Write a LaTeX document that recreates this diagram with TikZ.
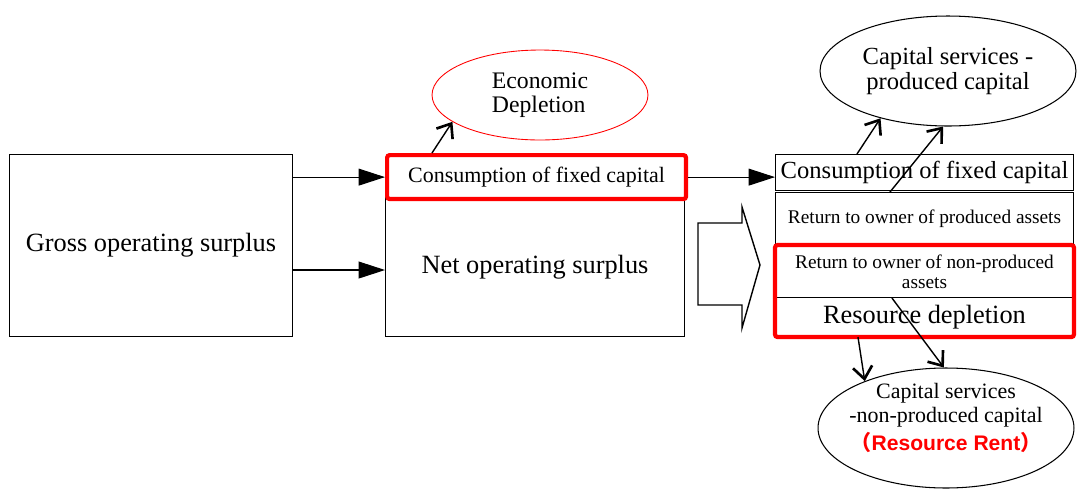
\documentclass[tikz,border=0pt]{standalone}
\usepackage{fontspec}
\setmainfont{Liberation Serif}
\setsansfont{Liberation Sans}
\newfontfamily\cjk{Noto Sans CJK SC}
\usetikzlibrary{shapes.geometric,arrows.meta,positioning,fit,calc}

\begin{document}
\begin{tikzpicture}[
    x=0.02cm, y=-0.02cm,
    box/.style={draw, line width=0.6pt, rectangle, inner sep=0pt, align=center, anchor=north west},
    redbox/.style={draw=red, line width=2.4pt, rounded corners=1.5pt, inner sep=0pt},
    oval/.style={draw, ellipse, line width=0.6pt, inner sep=0pt, align=center},
    flow/.style={-{Triangle[length=15pt,width=9.6pt]}, line width=0.6pt},
    barb/.style={-{Straight Barb[length=7pt,width=11pt,line width=1.5pt]}, line width=0.8pt},
]
\useasboundingbox (0,0) rectangle (1080,491);

% left and middle
\node[box, minimum width=5.66cm, minimum height=3.64cm, font=\fontsize{15}{18}\selectfont] (gos) at (9,154) {Gross operating surplus};
\node[box, minimum width=5.98cm, minimum height=2.78cm, font=\fontsize{15}{18}\selectfont] (net) at (385,197) {Net operating surplus};
\node[box, redbox, minimum width=5.98cm, minimum height=0.88cm, font=\fontsize{12.5}{15}\selectfont] (cfc1) at (385,153) {Consumption of fixed capital};
\node[oval, draw=red, line width=0.5pt, minimum width=4.32cm, minimum height=1.8cm, align=left, font=\fontsize{13.5}{13.5}\selectfont] (ecdep) at (540,95) {Economic\\Depletion};

% right column
\node[box, minimum width=5.96cm, minimum height=0.72cm, font=\fontsize{14}{17}\selectfont] (cfc2) at (775,154) {Consumption of fixed capital};
\node[box, minimum width=5.96cm, minimum height=1.06cm, font=\fontsize{11}{13}\selectfont] (rop) at (775,192) {Return to owner of produced assets};
\node[box, minimum width=5.96cm, minimum height=1.04cm, font=\fontsize{11}{11.3}\selectfont] (ronp) at (775,245) {Return to owner of non-produced\\assets};
\node[box, minimum width=5.96cm, minimum height=0.78cm, font=\fontsize{15}{18}\selectfont] (rdep) at (775,297) {Resource depletion};
\node[redbox, fit=(ronp)(rdep)] (nonprod) {};

\node[oval, minimum width=5.12cm, minimum height=2.2cm, font=\fontsize{14}{14.5}\selectfont] (cspc) at (948,71) {Capital services -\\produced capital};
\node[oval, minimum width=5.12cm, minimum height=2.4cm] (csnp) at (946,428) {};
\node[align=center, inner sep=0pt, font=\fontsize{12.5}{14}\selectfont] (csnptxt) at (946,418) {Capital services\\-non-produced capital\\[2pt]{\sffamily\bfseries\fontsize{12}{14}\selectfont\color{red}{\cjk （}Resource Rent{\cjk ）}}};

% big hollow arrow
\draw[line width=0.8pt] (698,223) -- (742,223) -- (742,207) -- (760,265) -- (742,328) -- (742,305) -- (698,305) -- cycle;

% connectors
\draw[flow] (gos.east |- cfc1.west) -- (cfc1.west);
\draw[flow] ([yshift=-0.06cm]gos.east |- net.west) -- ([yshift=-0.06cm]net.west);
\draw[flow] (cfc1.east) -- (cfc1.east -| cfc2.west);
\draw[barb] ([xshift=0.94cm]cfc1.north west) -- (ecdep.197);
\draw[barb] ([xshift=1.64cm]cfc2.north west) -- (cspc.215);
\draw[barb] ([xshift=2.3cm]rop.north west) -- (cspc.265);
\draw[barb] ([xshift=1.66cm]rdep.south west) -- (csnp.150);
\draw[barb] ([xshift=2.34cm]ronp.south west) -- (csnp.92);
\end{tikzpicture}
\end{document}
